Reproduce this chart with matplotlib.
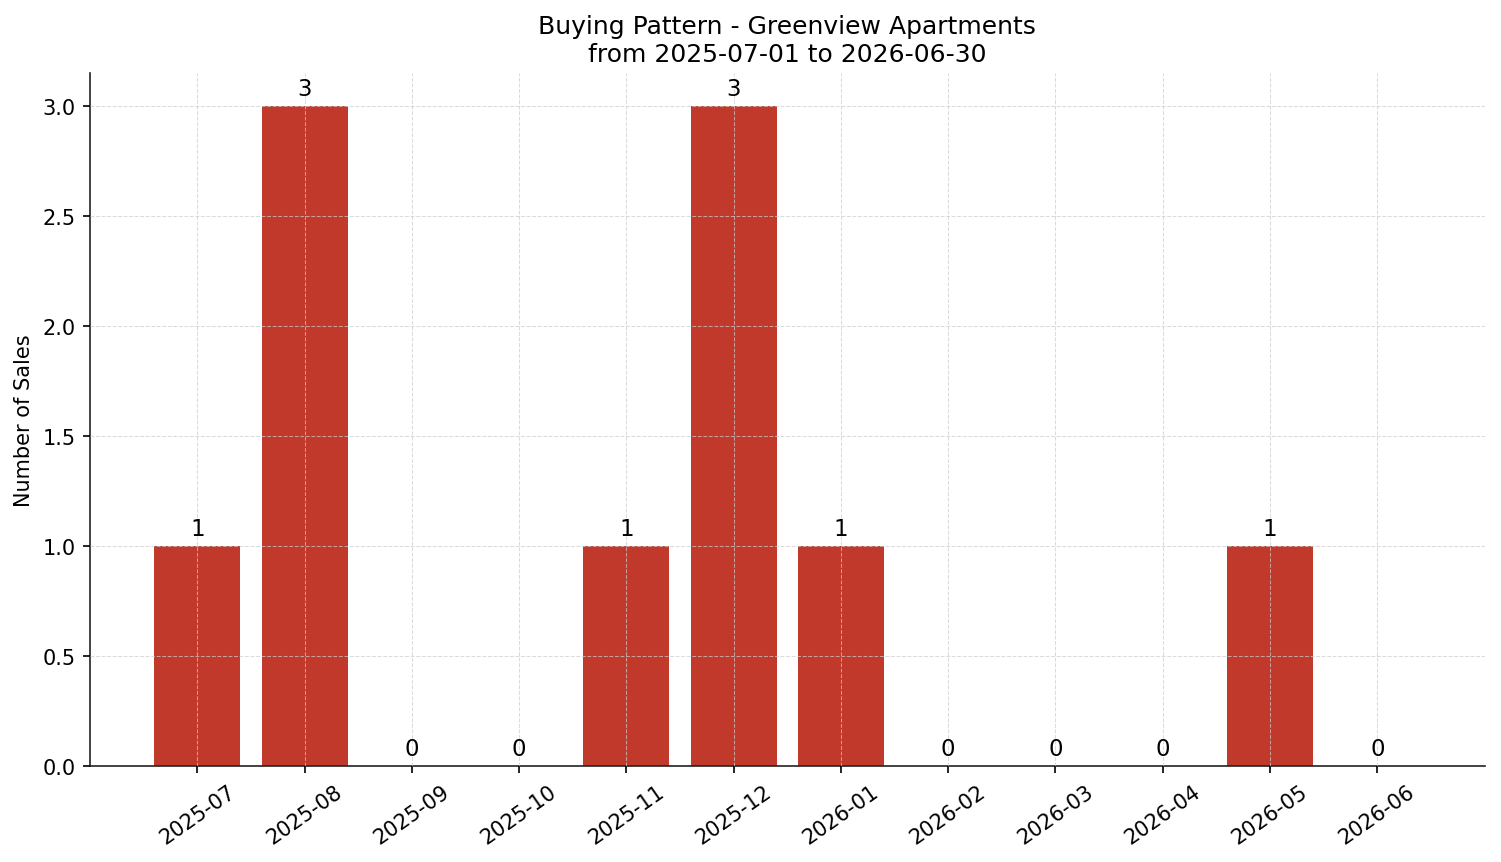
import matplotlib.pyplot as plt
import numpy as np

months = ["2025-07", "2025-08", "2025-09", "2025-10", "2025-11", "2025-12",
          "2026-01", "2026-02", "2026-03", "2026-04", "2026-05", "2026-06"]
sales = [1, 3, 0, 0, 1, 3, 1, 0, 0, 0, 1, 0]

fig, ax = plt.subplots(figsize=(10.007, 5.753), dpi=150)
x = np.arange(len(months))
bars = ax.bar(x, sales, width=0.8, color="#C0392B")
ax.bar_label(bars, labels=[str(v) for v in sales], padding=3, fontsize=11)

ax.set_xticks(x)
ax.set_xticklabels(months, rotation=35, ha="center")
ax.set_xlim(-1, 12)
ax.set_ylim(0, 3.15)
ax.set_ylabel("Number of Sales")
ax.set_title("Buying Pattern - Greenview Apartments\nfrom 2025-07-01 to 2026-06-30", fontsize=12)

ax.grid(True, linestyle="--", linewidth=0.5, color="#cccccc", alpha=0.7)
ax.set_axisbelow(False)
for s in ["top", "right"]:
    ax.spines[s].set_visible(False)
for s in ["left", "bottom"]:
    ax.spines[s].set_color("#222222")

fig.subplots_adjust(left=0.060, right=0.989, top=0.914, bottom=0.111)
plt.savefig("out.png", dpi=150)
